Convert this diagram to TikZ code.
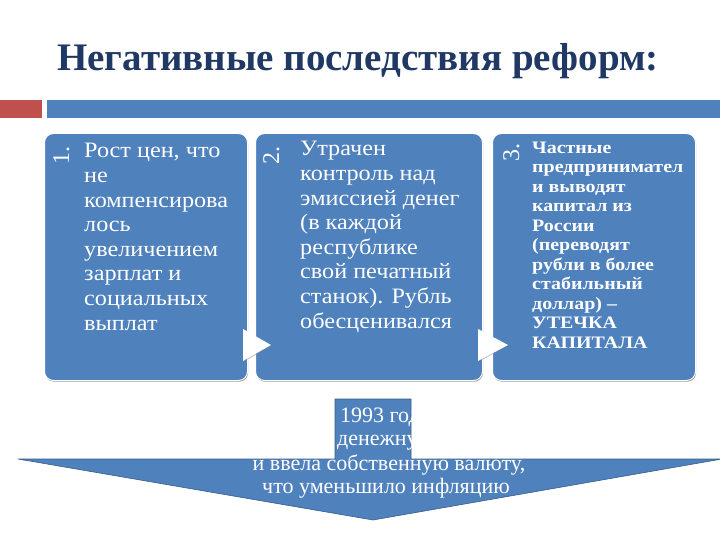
\documentclass[tikz,border=0pt]{standalone}
\usepackage{fontspec}
\setmainfont{Liberation Serif}
\newfontfamily\wideserif[FakeStretch=1.1]{Liberation Serif}
\newfontfamily\widerserif[FakeStretch=1.14]{Liberation Serif}
\usetikzlibrary{shadows}
\definecolor{acc}{HTML}{4F81BD}
\definecolor{accred}{HTML}{C0504D}
\definecolor{titleblue}{HTML}{1F3864}
\definecolor{arrline}{HTML}{385D8A}
\tikzset{
  stepbox/.style={fill=acc, draw=white, line width=1pt, rounded corners=9pt,
    drop shadow={shadow xshift=0.6pt, shadow yshift=-1.2pt, opacity=0.6, fill=black!70},
    anchor=north west, minimum height=247pt, inner sep=0pt},
  boxtext/.style={anchor=base west, align=left, text=white, inner sep=0pt,
    font=\wideserif\fontsize{22}{24.6}\selectfont},
  boxtextb/.style={anchor=base west, align=left, text=white, inner sep=0pt,
    font=\widerserif\fontsize{17.5}{19.5}\selectfont\bfseries},
  numtext/.style={anchor=base west, rotate=90, text=white, inner sep=0pt,
    font=\fontsize{24}{24}\selectfont},
  tri/.style={fill=white, drop shadow={shadow xshift=0.5pt, shadow yshift=-0.8pt, opacity=0.5}},
  arrtext/.style={text=white, inner sep=0pt, anchor=base, font=\fontsize{22}{24}\selectfont},
}
\begin{document}
\begin{tikzpicture}[x=1pt,y=-1pt]
\useasboundingbox (0,0) rectangle (720,540);
% title
\node[font=\fontsize{39}{42}\selectfont\bfseries, text=titleblue, anchor=base west, inner sep=0pt]
  (title) at (57,71) {Негативные последствия реформ:};
% bars
\fill[accred] (0,100) rectangle (42,118);
\fill[acc] (47,100) rectangle (720,118);
% boxes
\node[stepbox, minimum width=203pt] (b1) at (44,133) {};
\node[stepbox, minimum width=227pt] (b2) at (255,133) {};
\node[stepbox, minimum width=203pt] (b3) at (492,133) {};
% numbers
\node[numtext] (n1) at ([shift={(25,32)}]b1.north west) {1.};
\node[numtext] (n2) at ([shift={(24,32)}]b2.north west) {2.};
\node[numtext] (n3) at ([shift={(27,29)}]b3.north west) {3.};
% texts (anchor = baseline of the last line)
\node[boxtext] (t1) at ([shift={(40,197)}]b1.north west)
  {Рост цен, что\\не\\компенсирова\\лось\\увеличением\\зарплат и\\социальных\\выплат};
\node[boxtext] (t2) at ([shift={(45,195)}]b2.north west)
  {Утрачен\\контроль над\\эмиссией денег\\(в каждой\\республике\\свой печатный\\станок). Рубль\\обесценивался};
\node[boxtextb] (t3) at ([shift={(40,215)}]b3.north west)
  {Частные\\предпринимател\\и выводят\\капитал из\\России\\(переводят\\рубли в более\\стабильный\\доллар) –\\УТЕЧКА\\КАПИТАЛА};
% connector triangles
\path[tri] ([shift={(-5,-52)}]b1.south east) -- ([shift={(-5,-20)}]b1.south east)
  -- ([shift={(23,-36)}]b1.south east) -- cycle;
\path[tri] ([shift={(-5,-52)}]b2.south east) -- ([shift={(-5,-20)}]b2.south east)
  -- ([shift={(25,-36)}]b2.south east) -- cycle;
% bottom arrow
\coordinate (tip) at (373,520);
\path[fill=acc, draw=arrline, line width=0.6pt]
  (335,399) -- (411,399) -- (411,459) -- (722,459) -- (tip) -- (18,459) -- (335,459) -- cycle;
\begin{scope}
\clip (335,399) -- (411,399) -- (411,459) -- (722,459) -- (tip) -- (18,459) -- (335,459) -- cycle;
\node[arrtext, anchor=base west] (a1) at (340,422) {1993 году};
\node[arrtext, anchor=base west] (a2) at (337,445) {денежную};
\node[arrtext] (a3) at (389,470) {и ввела собственную валюту,};
\node[arrtext] (a4) at (386,493) {что уменьшило инфляцию};
\end{scope}
\end{tikzpicture}
\end{document}
